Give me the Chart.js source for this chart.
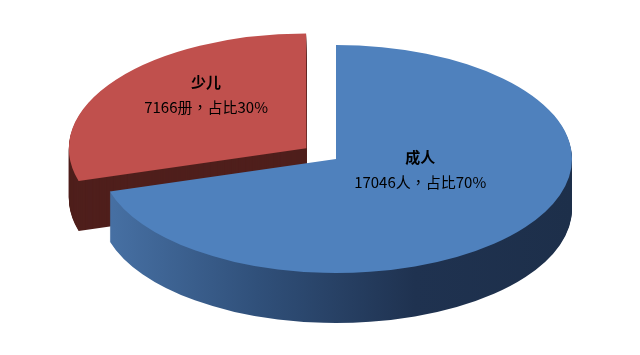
<!DOCTYPE html>
<html>
<head>
<meta charset="utf-8">
<script src="https://cdn.jsdelivr.net/npm/chart.js@4/dist/chart.umd.min.js"></script>
<style>
  html, body { margin: 0; padding: 0; background: #ffffff; }
  #wrap { width: 640px; height: 355px; position: relative; }
</style>
</head>
<body>
<div id="wrap"><canvas id="chartPie"></canvas></div>
<script>
// --- datos ---
const categorias = ['成人', '少儿'];
const cantidades = [17046, 7166];
const unidades = ['人', '册'];
const porcentajes = [70, 30];

// --- estilo ---
const coloresTapa = ['#4F81BD', '#C0504D'];
const coloresLado = [['#4872a6', '#30507a', '#1f3250', '#1d2f4a'], ['#4f1f1c']];
const APLASTE = 114 / 236;   // elipse: alto / ancho
const GROSOR = 50;           // profundidad del cilindro
// posicion de etiquetas como fraccion del radio (x, y)
const posEtiqueta = [{ fx: 0.445, fy: 0.16 }, { fx: 0.53, fy: 0.78 }];

function aplastar(ctx, cx, cy) {
    ctx.translate(cx, cy);
    ctx.scale(1, APLASTE);
    ctx.translate(-cx, -cy);
}

const pie3d = {
    id: 'pie3d',
    beforeDatasetsDraw(chart) {
        const ctx = chart.ctx;
        const arcs = chart.getDatasetMeta(0).data;
        const cx = arcs[0].x, cy = arcs[0].y;
        // caras laterales, de atras hacia adelante
        for (let j = arcs.length - 1; j >= 0; j--) {
            const arc = arcs[j];
            const stops = coloresLado[j];
            let fill = stops[0];
            if (stops.length > 1) {
                const r = arc.outerRadius;
                fill = ctx.createLinearGradient(cx - r, 0, cx + r, 0);
                stops.forEach((c, i) => fill.addColorStop(i / (stops.length - 1), c));
            }
            const lado = Object.create(arc);
            lado.options = Object.assign({}, arc.options, { backgroundColor: fill, borderColor: fill, borderWidth: 0 });
            for (let d = GROSOR; d > 0; d--) {
                ctx.save();
                ctx.translate(0, d);
                aplastar(ctx, cx, cy);
                lado.draw(ctx);
                ctx.restore();
            }
        }
        ctx.save();
        aplastar(ctx, cx, cy);
    },
    afterDatasetsDraw(chart) {
        const ctx = chart.ctx;
        ctx.restore();
        const arcs = chart.getDatasetMeta(0).data;
        ctx.save();
        ctx.fillStyle = '#000000';
        ctx.textAlign = 'center';
        ctx.textBaseline = 'middle';
        arcs.forEach((arc, i) => {
            const mid = (arc.startAngle + arc.endAngle) / 2;
            const off = (arc.options.offset || 0) / 4;
            const r = arc.outerRadius;
            const x = arc.x + Math.cos(mid) * (off + r * posEtiqueta[i].fx);
            const y = arc.y + Math.sin(mid) * (off + r * posEtiqueta[i].fy) * APLASTE;
            ctx.font = 'bold 15px "Noto Sans CJK SC", sans-serif';
            ctx.fillText(categorias[i], x, y - 13);
            ctx.font = '15px "Noto Sans CJK TC", sans-serif';
            ctx.fillText(cantidades[i] + unidades[i] + '，占比' + porcentajes[i] + '%', x, y + 12);
        });
        ctx.restore();
    }
};

function crearPie3D(canvasId) {
    const ctx = document.getElementById(canvasId).getContext('2d');
    new Chart(ctx, {
        type: 'pie',
        data: {
            labels: categorias,
            datasets: [{
                data: cantidades,
                backgroundColor: coloresTapa,
                borderWidth: 0,
                offset: [0, 148],
                hoverOffset: 0,
                radius: 236,
                clip: false
            }]
        },
        options: {
            responsive: true,
            maintainAspectRatio: false,
            animation: false,
            events: [],
            layout: { padding: { left: 32, right: 0, top: 0, bottom: 37 } },
            plugins: { legend: { display: false }, tooltip: { enabled: false } }
        },
        plugins: [pie3d]
    });
}

document.addEventListener('DOMContentLoaded', () => {
    crearPie3D('chartPie');
});
</script>
</body>
</html>
